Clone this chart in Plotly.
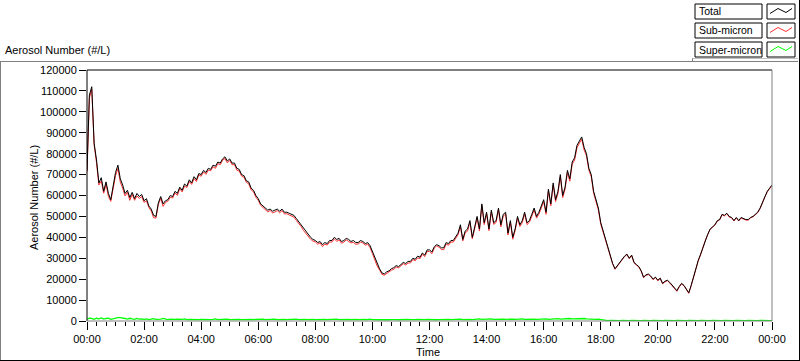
import pandas as pd
import plotly.graph_objects as go

# ---------------- data (5-minute samples, 00:00 .. 24:00) ----------------
start_time = "2000-01-01 00:00"
sample_step = "5min"

total = [
    72000, 108000, 112000, 85000, 77000, 66000, 68500, 62000, 66500, 61000, 58000, 64000,
    71000, 74500, 68000, 65000, 61000, 62500, 59000, 61500, 58500, 61000, 59500, 60500,
    57500, 58500, 55000, 53500, 50500, 50000, 56500, 59500, 56000, 57500, 58000, 60000,
    59500, 62000, 61000, 64000, 62500, 65500, 64500, 67500, 66000, 69000, 67500, 70500,
    70000, 72000, 71000, 73000, 72500, 74500, 74000, 76000, 75500, 77500, 78500, 76500,
    77500, 75500, 75500, 73000, 72500, 70000, 69500, 67000, 66500, 63500, 62500, 60000,
    58500, 56000, 55000, 54000, 53000, 53500, 52500, 53000, 53500, 52500, 53500, 52000,
    52000, 51500, 51000, 50500, 49000, 47500, 46000, 44000, 42500, 41000, 40000, 39000,
    38500, 37500, 38000, 36500, 37500, 37000, 38500, 38500, 40000, 39000, 39500, 38000,
    38500, 39500, 39000, 38000, 38500, 37500, 37500, 38500, 38000, 37000, 37500, 36000,
    33000, 30000, 27000, 25000, 23000, 22500, 23500, 24000, 25000, 25500, 26500, 26000,
    27000, 28000, 27500, 28500, 28500, 30000, 29500, 31000, 30500, 32500, 31500, 34000,
    34000, 33000, 35500, 36500, 36000, 35000, 35000, 37500, 37000, 38500, 38500, 40000,
    42000, 46000, 39000, 43000, 44000, 48000, 40000, 45000, 50000, 44000, 56000, 47000,
    52000, 44000, 53000, 47000, 48000, 54000, 46000, 51000, 52000, 42000, 48000, 40000,
    44000, 50000, 46000, 48000, 52000, 47000, 48000, 51000, 54000, 50000, 52000, 55000,
    58000, 52000, 63000, 56000, 66000, 58000, 62000, 70000, 60000, 64000, 72000, 68000,
    76000, 78000, 84000, 86000, 88000, 83000, 80000, 73000, 70000, 62000, 58000, 54000,
    47000, 43000, 39000, 35000, 31000, 27500, 25000, 26500, 28000, 30000, 31000, 32000,
    30000, 31500, 28000, 27000, 26000, 24000, 21000, 22000, 22500, 21500, 20000, 21000,
    19500, 20500, 18000, 19000, 19500, 18500, 17000, 16000, 14500, 16500, 18000, 17000,
    15000, 13500, 17000, 21000, 26000, 29000, 32000, 35500, 39000, 41500, 44000, 45000,
    46000, 48000, 48500, 51000, 50500, 51500, 50000, 49500, 48000, 49500, 48000, 49500,
    49000, 48500, 48500, 49500, 50000, 51000, 52000, 54000, 57000, 59500, 62000, 63500,
    65000,
]

super_micron = [
    900, 1400, 1200, 800, 1300, 1000, 1500, 900, 1200, 1400, 800, 1100,
    1500, 1600, 1600, 1500, 1200, 900, 1300, 1000, 800, 1200, 900, 1000,
    800, 1000, 700, 900, 1100, 800, 700, 900, 1200, 800, 700, 900,
    700, 800, 900, 700, 800, 1000, 700, 800, 700, 900, 800, 700,
    800, 700, 900, 800, 700, 800, 1000, 700, 800, 700, 800, 900,
    700, 800, 700, 900, 800, 700, 800, 700, 900, 800, 700, 800,
    800, 700, 900, 700, 800, 700, 800, 900, 700, 800, 700, 800,
    700, 800, 700, 800, 900, 700, 800, 700, 800, 700, 900, 800,
    700, 800, 700, 900, 800, 700, 800, 700, 800, 900, 700, 800,
    800, 700, 800, 700, 900, 800, 700, 800, 700, 800, 700, 900,
    700, 600, 700, 600, 700, 600, 700, 600, 700, 800, 700, 600,
    700, 600, 700, 800, 700, 600, 700, 800, 700, 600, 700, 800,
    700, 800, 700, 600, 700, 800, 900, 700, 800, 700, 800, 700,
    800, 900, 700, 800, 1000, 800, 700, 900, 800, 1000, 800, 900,
    900, 800, 1000, 800, 900, 800, 1000, 900, 800, 900, 800, 900,
    800, 900, 800, 1000, 800, 900, 800, 1000, 900, 800, 900, 1000,
    900, 1000, 800, 900, 1000, 900, 1100, 900, 1000, 900, 1000, 1200,
    1000, 1100, 1200, 1000, 1100, 1200, 1000, 900, 1000, 900, 800, 900,
    700, 400, 300, 200, 300, 200, 300, 200, 200, 300, 200, 300,
    200, 300, 200, 300, 200, 200, 300, 200, 300, 200, 300, 200,
    300, 200, 200, 300, 200, 300, 200, 200, 300, 200, 300, 200,
    200, 300, 200, 300, 200, 200, 300, 200, 300, 200, 200, 300,
    200, 300, 200, 200, 300, 200, 300, 200, 200, 300, 200, 300,
    300, 200, 300, 200, 200, 300, 200, 300, 200, 200, 300, 200,
    200,
]

sub_micron = [t - s for t, s in zip(total, super_micron)]

series_names = ["Total", "Sub-micron", "Super-micron"]
y_tick_values = list(range(0, 120001, 10000))
x_range = ["2000-01-01 00:00", "2000-01-02 00:00"]

times = pd.date_range(start_time, periods=len(total), freq=sample_step)

# ---------------- figure ----------------
W, H = 800, 361
L, R, T, B = 87, 772, 70, 321  # plot area in pixels
FONT = "Liberation Sans"


def px(x):
    return (x - L) / (R - L)


def py(y):
    return (B - y) / (B - T)


fig = go.Figure()
fig.add_trace(go.Scatter(x=times, y=super_micron, mode="lines", name=series_names[2],
                         line=dict(color="#00ff00", width=1.3), showlegend=False))
fig.add_trace(go.Scatter(x=times, y=sub_micron, mode="lines", name=series_names[1],
                         line=dict(color="#ff3030", width=1), showlegend=False))
fig.add_trace(go.Scatter(x=times, y=total, mode="lines", name=series_names[0],
                         line=dict(color="#000000", width=1), showlegend=False))

shapes = []


def line(x0, y0, x1, y1, color, width=1):
    shapes.append(dict(type="line", xref="paper", yref="paper",
                       x0=px(x0), y0=py(y0), x1=px(x1), y1=py(y1),
                       line=dict(color=color, width=width), layer="above"))


def rect(x0, y0, x1, y1, color):
    shapes.append(dict(type="rect", xref="paper", yref="paper",
                       x0=px(x0), y0=py(y0), x1=px(x1), y1=py(y1),
                       line=dict(color=color, width=1), fillcolor="white", layer="above"))


# outer panel
line(0, 61.5, 798, 61.5, "#808080")
line(0.5, 61.5, 0.5, 360, "#808080")
line(0, 360.5, 799, 360.5, "#000000")
line(799.5, 0, 799.5, 361, "#000000")
line(692, 58.5, 798, 58.5, "#c0c0c0")
line(692.5, 58.5, 692.5, 61.5, "#808080")

# plot frame
line(L, T, R, T, "#000000")
line(L, T, L, B, "#000000")
line(R, T, R, B, "#808080")
line(L, B, R, B, "#808080")

annotations = []

# legend
legend_rows = [(4, 19), (23, 38), (42, 57)]
legend_colors = ["#000000", "#ff3030", "#00ff00"]
for (top, bot), name, col in zip(legend_rows, series_names, legend_colors):
    rect(695, top, 762, bot, "#000000")
    rect(767, top, 795, bot, "#000000")
    mid = (top + bot) / 2
    pts = [(770, mid + 2), (778, mid - 3), (786, mid + 1), (792, mid - 3)]
    path = "M " + " L ".join(f"{px(a)},{py(b)}" for a, b in pts)
    shapes.append(dict(type="path", xref="paper", yref="paper", path=path,
                       line=dict(color=col, width=1), layer="above"))
    annotations.append(dict(text=name, xref="paper", yref="paper",
                            x=px(697), y=py(mid), xanchor="left", yanchor="middle",
                            showarrow=False, font=dict(family=FONT, size=10.5, color="black")))

# top-left label
annotations.append(dict(text="Aerosol Number (#/L)", xref="paper", yref="paper",
                        x=px(3), y=py(50), xanchor="left", yanchor="middle",
                        showarrow=False, font=dict(family=FONT, size=11, color="black")))
# y title
annotations.append(dict(text="Aerosol Number (#/L)", xref="paper", yref="paper",
                        x=px(34), y=py(198), xanchor="center", yanchor="middle",
                        textangle=-90, showarrow=False,
                        font=dict(family=FONT, size=11, color="black")))
# x title
annotations.append(dict(text="Time", xref="paper", yref="paper",
                        x=px(428), y=py(352), xanchor="center", yanchor="middle",
                        showarrow=False, font=dict(family=FONT, size=11, color="black")))

fig.update_layout(
    width=W, height=H,
    margin=dict(l=L, r=W - R, t=T, b=H - B, pad=0, autoexpand=False),
    paper_bgcolor="white", plot_bgcolor="white",
    font=dict(family=FONT, size=11, color="black"),
    shapes=shapes, annotations=annotations,
    showlegend=False,
    xaxis=dict(
        type="date", range=x_range, dtick=2 * 3600 * 1000, tick0=x_range[0],
        tickformat="%H:%M", ticks="outside", ticklen=8, tickcolor="black", tickwidth=1,
        showgrid=False, zeroline=False, showline=False,
        minor=dict(dtick=20 * 60 * 1000, ticks="outside", ticklen=4,
                   tickcolor="black", tickwidth=1, showgrid=False),
        tickfont=dict(family=FONT, size=11, color="black"),
    ),
    yaxis=dict(
        range=[0, 120000], tickvals=y_tick_values, tickformat="d",
        ticks="outside", ticklen=7, tickcolor="black", tickwidth=1,
        showgrid=False, zeroline=False, showline=False,
        tickfont=dict(family=FONT, size=11, color="black"),
    ),
)

fig.write_html("out.html", config={"displayModeBar": False},
               post_script="document.body.style.margin='0';")
